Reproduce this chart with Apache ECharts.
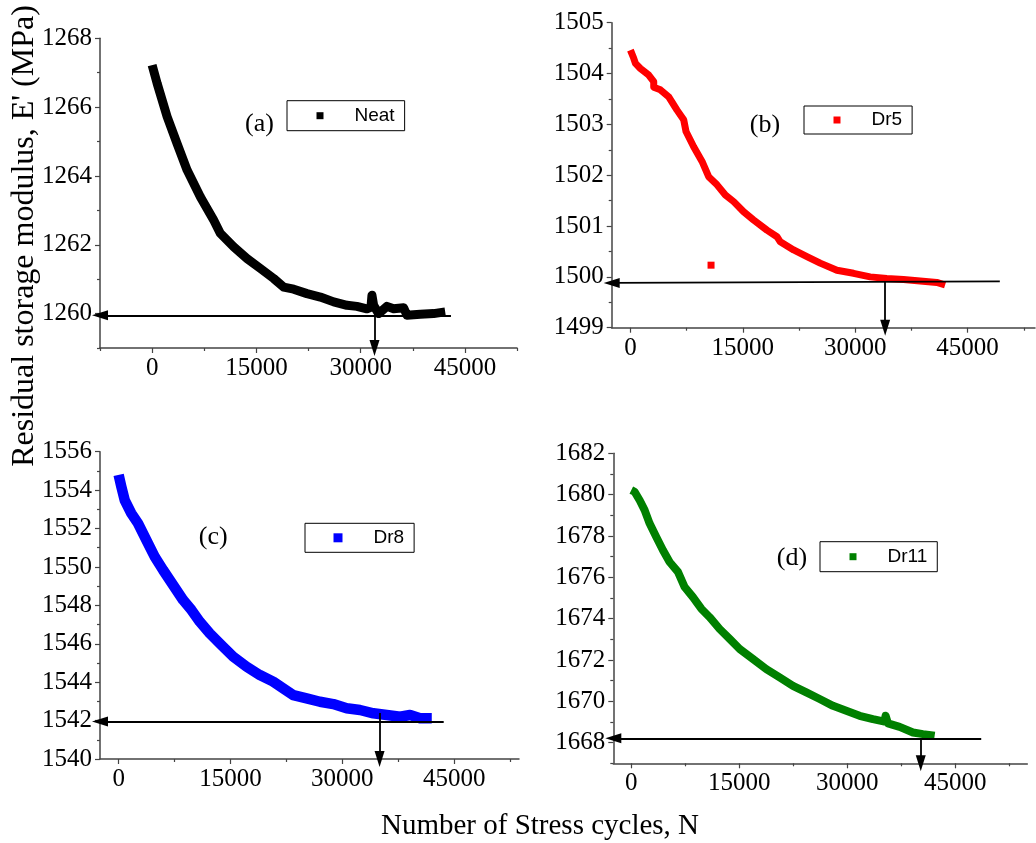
<!DOCTYPE html>
<html>
<head>
<meta charset="utf-8">
<script src="https://cdn.jsdelivr.net/npm/echarts@6/dist/echarts.min.js"></script>
<style>html,body{margin:0;padding:0;background:#fff;}#c{width:1036px;height:843px;}</style>
</head>
<body>
<div id="c"></div>
<script>
// ---------- data ----------
const neatN = [0,720,2160,3590,5030,6950,8870,9820,11740,13660,15580,17490,18930,20370,22280,24200,26120,28040,29470,30910,31490,31630,31870,32590,33790,34750,36190,36660,38580,40500,42170];
const neatE = [1267.22,1266.69,1265.72,1264.94,1264.17,1263.39,1262.71,1262.33,1261.94,1261.60,1261.31,1261.02,1260.77,1260.71,1260.58,1260.48,1260.34,1260.24,1260.21,1260.14,1260.19,1260.53,1260.24,1260.00,1260.21,1260.14,1260.17,1259.95,1259.98,1260.00,1260.05];

const dr5N = [0,440,670,1330,2440,3110,3110,4000,5110,6220,7110,7420,8440,9560,10440,11560,12670,13780,15110,16440,18220,19560,20000,21780,23560,25330,27560,29780,32000,34220,36440,38670,40890,42000];
const dr5E = [1504.46,1504.30,1504.20,1504.10,1503.97,1503.84,1503.73,1503.68,1503.54,1503.28,1503.09,1502.86,1502.56,1502.27,1501.97,1501.81,1501.61,1501.48,1501.28,1501.12,1500.92,1500.79,1500.69,1500.53,1500.40,1500.27,1500.13,1500.07,1500.00,1499.97,1499.95,1499.92,1499.89,1499.84];
const dr5OutlierN = [10760];
const dr5OutlierE = [1500.23];

const dr8N = [0,360,810,1700,2600,3720,4840,5960,7300,8640,9760,10880,12220,13790,15360,17150,18940,20730,22070,23420,25210,27000,28790,30580,32370,34160,35960,37750,39090,40430,42000];
const dr8E = [1554.79,1554.18,1553.48,1552.79,1552.27,1551.40,1550.53,1549.84,1549.06,1548.28,1547.76,1547.15,1546.54,1545.93,1545.33,1544.81,1544.37,1544.03,1543.68,1543.33,1543.16,1542.98,1542.86,1542.64,1542.55,1542.38,1542.29,1542.20,1542.29,1542.12,1542.12];

const dr11N = [0,460,1160,1850,2550,3470,4400,5320,6480,7410,8560,9720,10880,12270,13660,15050,16900,18750,20600,22450,24310,26160,28010,29860,31710,33560,35180,35320,35650,37270,39120,40510,42130];
const dr11E = [1680.22,1680.14,1679.73,1679.25,1678.60,1677.95,1677.31,1676.74,1676.26,1675.53,1675.04,1674.48,1674.07,1673.50,1673.02,1672.53,1672.05,1671.56,1671.16,1670.75,1670.43,1670.11,1669.78,1669.54,1669.30,1669.14,1669.02,1669.30,1668.93,1668.76,1668.49,1668.41,1668.33];

// arrows: [start, end(tip)]
const arrowAh = [[43000,1259.95],[-7500,1259.95]];
const arrowAv = [[32000,1259.95],[32000,1259]];
const arrowBh = [[49300,1499.91],[-2500,1499.88]];
const arrowBv = [[34000,1499.9],[34000,1499]];
const arrowCh = [[43600,1541.95],[-2500,1541.95]];
const arrowCv = [[35000,1542.4],[35000,1540]];
const arrowDh = [[48600,1668.21],[-2500,1668.21]];
const arrowDv = [[40200,1668.21],[40200,1667]];

// tick labels
const xTickLabels = [0,15000,30000,45000];
const xMinorA = [-7500,7500,22500,37500,52500];
const xMinor = [7500,22500,37500,52500];
const yLabelsA = [1260,1262,1264,1266,1268];
const yMinorA = [1259,1261,1263,1265,1267];
const yLabelsB = [1499,1500,1501,1502,1503,1504,1505];
const yMinorB = [1499.5,1500.5,1501.5,1502.5,1503.5,1504.5];
const yLabelsC = [1540,1542,1544,1546,1548,1550,1552,1554,1556];
const yMinorC = [1541,1543,1545,1547,1549,1551,1553,1555];
const yLabelsD = [1668,1670,1672,1674,1676,1678,1680,1682];
const yMinorD = [1667,1669,1671,1673,1675,1677,1679,1681];

const seriesNames = ['Neat','Dr5','Dr8','Dr11'];
const panelLetters = ['(a)','(b)','(c)','(d)'];

// ---------- build ----------
const zip = (a,b) => a.map((v,i)=>[v,b[i]]);
const SERIF = 'Liberation Serif';
const SANS = 'Liberation Sans';
const AXC = '#444';
const plain = v => String(v);

const panels = [
  {grid:{left:100,top:38.3,width:417,height:309.7}, x:[-7500,52500], y:[1259,1268],
   xMinor:xMinorA, yLab:yLabelsA, yMin:yMinorA, data:zip(neatN,neatE), color:'#000000', lw:9,
   arrows:[arrowAh,arrowAv], legend:{left:287,top:100.7,w:121,h:30,ms:7}, letter:[259.5,124]},
  {grid:{left:611.7,top:22.7,width:423.3,height:305}, x:[-2500,54000], y:[1499,1505],
   xMinor:xMinor, yLab:yLabelsB, yMin:yMinorB, data:zip(dr5N,dr5E), color:'#ff0000', lw:7,
   arrows:[arrowBh,arrowBv], legend:{left:804,top:106,w:112,h:28,ms:7}, letter:[765,125],
   extra:zip(dr5OutlierN,dr5OutlierE)},
  {grid:{left:100,top:451.7,width:419,height:307.3}, x:[-2500,53700], y:[1540,1556],
   xMinor:xMinor, yLab:yLabelsC, yMin:yMinorC, data:zip(dr8N,dr8E), color:'#0000ff', lw:10.5,
   arrows:[arrowCh,arrowCv], legend:{left:305,top:523.3,w:112,h:29,ms:9}, letter:[213.3,537]},
  {grid:{left:613.3,top:453.3,width:414,height:310}, x:[-2500,55000], y:[1667,1682],
   xMinor:xMinor, yLab:yLabelsD, yMin:yMinorD, data:zip(dr11N,dr11E), color:'#008000', lw:8,
   arrows:[arrowDh,arrowDv], legend:{left:820,top:541.7,w:124,h:30,ms:7}, letter:[792,558]}
];

const option = {
  animation:false,
  backgroundColor:'#fff',
  grid:[], xAxis:[], yAxis:[], series:[], legend:[], graphic:[]
};

panels.forEach((p,i)=>{
  option.grid.push(Object.assign({outerBoundsMode:'none', containLabel:false}, p.grid));
  const xi = option.xAxis.length, yi = option.yAxis.length;
  option.xAxis.push({
    type:'value', gridIndex:i, min:p.x[0], max:p.x[1], position:'bottom',
    axisLine:{show:true,onZero:false,lineStyle:{color:AXC,width:1.5}},
    axisTick:{show:true,customValues:xTickLabels,length:5,lineStyle:{color:AXC,width:1.2}},
    axisLabel:{customValues:xTickLabels,formatter:plain,color:'#000',fontFamily:SERIF,fontSize:25,margin:8},
    splitLine:{show:false}
  });
  option.xAxis.push({
    type:'value', gridIndex:i, min:p.x[0], max:p.x[1], position:'bottom',
    axisLine:{show:false,onZero:false}, axisLabel:{show:false}, splitLine:{show:false},
    axisTick:{show:true,customValues:p.xMinor,length:3,lineStyle:{color:AXC,width:1.2}}
  });
  option.yAxis.push({
    type:'value', gridIndex:i, min:p.y[0], max:p.y[1], position:'left',
    axisLine:{show:true,onZero:false,lineStyle:{color:AXC,width:1.5}},
    axisTick:{show:true,customValues:p.yLab,length:5,lineStyle:{color:AXC,width:1.2}},
    axisLabel:{customValues:p.yLab,formatter:plain,color:'#000',fontFamily:SERIF,fontSize:25,margin:8},
    splitLine:{show:false}
  });
  option.yAxis.push({
    type:'value', gridIndex:i, min:p.y[0], max:p.y[1], position:'left', offset:0,
    axisLine:{show:false,onZero:false}, axisLabel:{show:false}, splitLine:{show:false},
    axisTick:{show:true,customValues:p.yMin,length:3,lineStyle:{color:AXC,width:1.2}}
  });
  option.series.push({
    type:'line', name:seriesNames[i], xAxisIndex:xi, yAxisIndex:yi,
    data:p.data, showSymbol:false, symbol:'rect', smooth:false,
    itemStyle:{color:p.color},
    lineStyle:{color:p.color,width:p.lw,join:'round'},
    markLine:{
      silent:true, animation:false,
      symbol:['none','triangle'], symbolSize:[10,16],
      lineStyle:{color:'#000',width:1.8,type:'solid'},
      label:{show:false},
      data:p.arrows.map(a=>[{coord:a[0]},{coord:a[1]}])
    }
  });
  if(p.extra){
    option.series.push({
      type:'scatter', name:seriesNames[i]+'_pt', xAxisIndex:xi, yAxisIndex:yi,
      data:p.extra, symbol:'rect', symbolSize:7, itemStyle:{color:p.color,opacity:1}
    });
  }
  const L = p.legend;
  option.legend.push({
    data:[{name:seriesNames[i],icon:'rect'}],
    left:L.left, top:L.top,
    itemWidth:L.ms, itemHeight:L.ms,
    padding:[(L.h-20)/2, 10, (L.h-20)/2, 320-287-L.ms/2],
    borderColor:'#000', borderWidth:1, borderRadius:0,
    textStyle:{fontFamily:SANS,fontSize:19,color:'#000',padding:[0,0,0,26],lineHeight:20},
    selectedMode:false
  });
  option.graphic.push({
    type:'text', x:p.letter[0], y:p.letter[1],
    style:{text:panelLetters[i], font:'26px "Liberation Serif"', fill:'#000', textAlign:'center', textVerticalAlign:'middle'}
  });
});

option.graphic.push({
  type:'text', x:25, y:236, rotation:Math.PI/2,
  style:{text:"Residual storage modulus, E' (MPa)", font:'32px "Liberation Serif"', fill:'#000', textAlign:'center', textVerticalAlign:'middle'}
});
option.graphic.push({
  type:'text', x:540, y:826,
  style:{text:'Number of Stress cycles, N', font:'29px "Liberation Serif"', fill:'#000', textAlign:'center', textVerticalAlign:'middle'}
});

const chart = echarts.init(document.getElementById('c'), null, {renderer:'canvas'});
chart.setOption(option);
</script>
</body>
</html>
